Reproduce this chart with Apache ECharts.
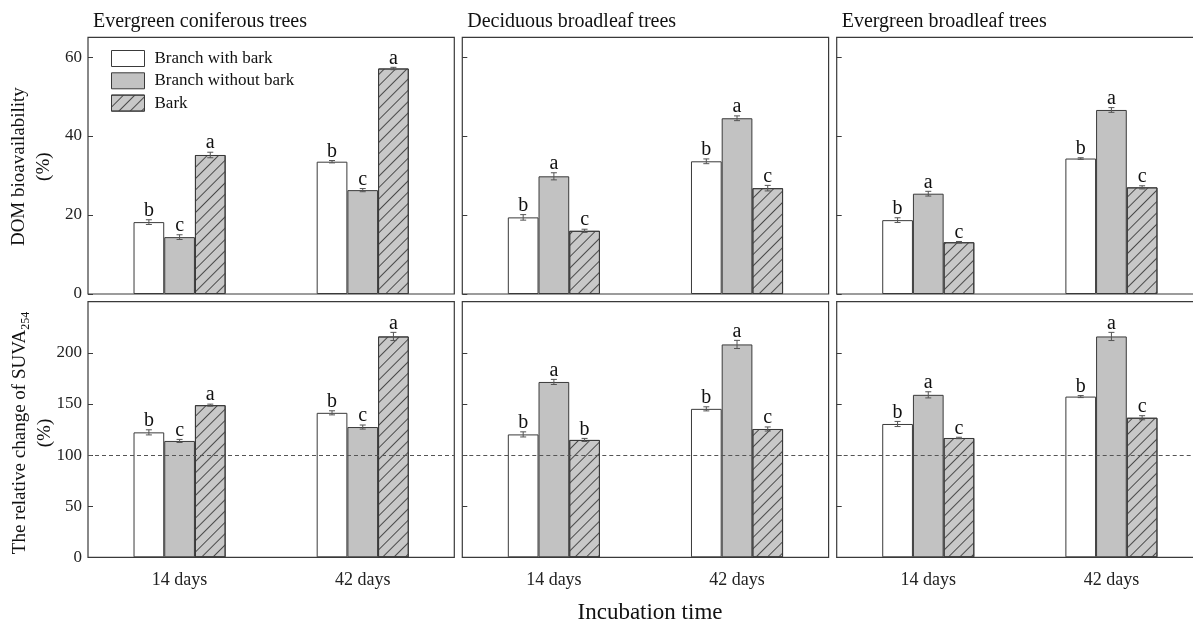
<!DOCTYPE html>
<html>
<head>
<meta charset="utf-8">
<script src="https://cdn.jsdelivr.net/npm/echarts@6/dist/echarts.min.js"></script>
<style>
html,body{margin:0;padding:0;background:#fff;}
#chart{width:1193px;height:626px;}
</style>
</head>
<body>
<div id="chart"></div>
<script>
// ---------------- DATA ----------------
const categories = ['14 days', '42 days'];
const seriesNames = ['Branch with bark', 'Branch without bark', 'Bark'];
const panelTitles = ['Evergreen coniferous trees', 'Deciduous broadleaf trees', 'Evergreen broadleaf trees'];
const domTicks = [0, 20, 40, 60];
const suvaTicks = [0, 50, 100, 150, 200];

// DOM bioavailability (%) : rows = series (with bark, without bark, bark), cols = categories
const domConifMean = [[18.2, 33.5], [14.4, 26.3], [35.2, 57.1]];
const domConifSD = [[0.6, 0.3], [0.6, 0.4], [0.7, 0.3]];
const domConifLetters = [['b', 'b'], ['c', 'c'], ['a', 'a']];

const domDecidMean = [[19.4, 33.6], [29.8, 44.5], [16.0, 26.8]];
const domDecidSD = [[0.7, 0.6], [0.9, 0.6], [0.4, 0.7]];
const domDecidLetters = [['b', 'b'], ['a', 'a'], ['c', 'c']];

const domEvbrMean = [[18.7, 34.3], [25.4, 46.6], [13.1, 27.0]];
const domEvbrSD = [[0.6, 0.2], [0.6, 0.6], [0.2, 0.4]];
const domEvbrLetters = [['b', 'b'], ['a', 'a'], ['c', 'c']];

// Relative change of SUVA254 (%)
const suvaConifMean = [[122.2, 141.3], [113.8, 127.4], [148.8, 216.0]];
const suvaConifSD = [[2.5, 2.0], [1.5, 2.0], [1.0, 4.0]];
const suvaConifLetters = [['b', 'b'], ['c', 'c'], ['a', 'a']];

const suvaDecidMean = [[120.2, 145.2], [171.5, 208.2], [114.8, 125.5]];
const suvaDecidSD = [[2.5, 2.0], [2.5, 4.0], [1.5, 2.0]];
const suvaDecidLetters = [['b', 'b'], ['a', 'a'], ['b', 'c']];

const suvaEvbrMean = [[130.4, 157.2], [158.9, 216.0], [116.7, 136.5]];
const suvaEvbrSD = [[2.5, 1.0], [3.0, 4.0], [0.7, 2.0]];
const suvaEvbrLetters = [['b', 'b'], ['a', 'a'], ['c', 'c']];

const referenceLine = 100;

// ---------------- STYLE / LAYOUT ----------------
const FONT = "'Liberation Serif', 'Times New Roman', serif";
const COL_LEFT = [88, 462.3, 836.7];
const GRID_W = 366.3;
const ROWS = [{ top: 37.3, h: 256.7 }, { top: 301.7, h: 255.6 }];
const BARW = 30.7;
const barFill = ['#ffffff', '#c2c2c2', '#c8c8c8'];
const EDGE = '#3a3a3a';

const panels = [
  { row: 0, col: 0, mean: domConifMean, sd: domConifSD, letters: domConifLetters },
  { row: 0, col: 1, mean: domDecidMean, sd: domDecidSD, letters: domDecidLetters },
  { row: 0, col: 2, mean: domEvbrMean, sd: domEvbrSD, letters: domEvbrLetters },
  { row: 1, col: 0, mean: suvaConifMean, sd: suvaConifSD, letters: suvaConifLetters },
  { row: 1, col: 1, mean: suvaDecidMean, sd: suvaDecidSD, letters: suvaDecidLetters },
  { row: 1, col: 2, mean: suvaEvbrMean, sd: suvaEvbrSD, letters: suvaEvbrLetters }
];

const grids = [], xAxes = [], yAxes = [], series = [];

panels.forEach((p, i) => {
  grids.push({
    left: COL_LEFT[p.col], top: ROWS[p.row].top, width: GRID_W, height: ROWS[p.row].h,
    outerBoundsMode: 'none', containLabel: false,
    show: true, borderColor: EDGE, borderWidth: 1.2, backgroundColor: 'transparent'
  });
  xAxes.push({
    gridIndex: i, type: 'category', data: categories,
    axisLine: { show: false }, axisTick: { show: false },
    axisLabel: { show: p.row === 1, fontFamily: FONT, fontSize: 18, color: '#222', margin: 14 }
  });
  const isDom = p.row === 0;
  yAxes.push({
    gridIndex: i, type: 'value', min: 0, max: isDom ? 65 : 250, interval: isDom ? 20 : 50,
    axisLine: { show: false }, splitLine: { show: false },
    axisTick: { show: true, inside: true, length: 5, lineStyle: { color: EDGE, width: 1 } },
    axisLabel: { show: p.col === 0, showMaxLabel: false, fontFamily: FONT, fontSize: 17, color: '#222', margin: 6 }
  });
  for (let k = 0; k < 3; k++) {
    const s = {
      name: seriesNames[k], type: 'bar', xAxisIndex: i, yAxisIndex: i,
      data: p.mean[k], barWidth: BARW, barGap: '0%',
      itemStyle: { color: barFill[k], borderColor: EDGE, borderWidth: 1 },
      emphasis: { disabled: true }, z: 2
    };
    if (k === 2) {
      s.itemStyle.decal = {
        symbol: 'rect', symbolSize: 1, dashArrayX: [1, 0], dashArrayY: [1, 7],
        rotation: -Math.PI / 4, color: '#4a4a4a'
      };
    }
    if (k === 0 && p.row === 1) {
      s.markLine = {
        silent: true, symbol: 'none', label: { show: false },
        lineStyle: { type: [4, 3], color: '#555', width: 1 },
        data: [{ yAxis: referenceLine }]
      };
    }
    series.push(s);
  }
  // error bars + significance letters
  const errData = [];
  const letterList = [];
  for (let k = 0; k < 3; k++) {
    for (let c = 0; c < categories.length; c++) {
      errData.push([c, p.mean[k][c], p.sd[k][c], k]);
      letterList.push(p.letters[k][c]);
    }
  }
  series.push({
    type: 'custom', xAxisIndex: i, yAxisIndex: i, data: errData, z: 5, silent: true,
    encode: { x: 0, y: 1 },
    renderItem: function (params, api) {
      const c = api.value(0), m = api.value(1), sd = api.value(2), k = api.value(3);
      const hi = api.coord([c, m + sd]);
      const lo = api.coord([c, m - sd]);
      const x = hi[0] + (k - 1) * BARW;
      const cap = 3;
      const st = { stroke: '#555', lineWidth: 1 };
      return {
        type: 'group',
        children: [
          { type: 'line', shape: { x1: x, y1: lo[1], x2: x, y2: hi[1] }, style: st },
          { type: 'line', shape: { x1: x - cap, y1: hi[1], x2: x + cap, y2: hi[1] }, style: st },
          { type: 'line', shape: { x1: x - cap, y1: lo[1], x2: x + cap, y2: lo[1] }, style: st },
          {
            type: 'text', x: x, y: hi[1] + 1,
            style: {
              text: letterList[params.dataIndex], textAlign: 'center', textVerticalAlign: 'bottom',
              font: '20px ' + FONT, fill: '#111'
            }
          }
        ]
      };
    }
  });
});

const graphics = [];
panelTitles.forEach((t, c) => {
  graphics.push({
    type: 'text', left: COL_LEFT[c] + 5, top: 12,
    style: { text: t, font: '20px ' + FONT, fill: '#111' }
  });
});
graphics.push({
  type: 'text', x: 19, y: ROWS[0].top + ROWS[0].h / 2 + 1, rotation: Math.PI / 2,
  style: { text: 'DOM bioavailability', font: '19px ' + FONT, fill: '#111', textAlign: 'center', textVerticalAlign: 'middle' }
});
graphics.push({
  type: 'text', x: 44, y: ROWS[0].top + ROWS[0].h / 2 + 1, rotation: Math.PI / 2,
  style: { text: '(%)', font: '19px ' + FONT, fill: '#111', textAlign: 'center', textVerticalAlign: 'middle' }
});
graphics.push({
  type: 'text', x: 20, y: 433, rotation: Math.PI / 2,
  style: {
    text: '{a|The relative change of SUVA}{s|254}', textAlign: 'center', textVerticalAlign: 'middle',
    rich: {
      a: { font: '19px ' + FONT, fill: '#111', lineHeight: 24 },
      s: { font: '12px ' + FONT, fill: '#111', lineHeight: 9, verticalAlign: 'bottom' }
    }
  }
});
graphics.push({
  type: 'text', x: 45, y: 433, rotation: Math.PI / 2,
  style: { text: '(%)', font: '19px ' + FONT, fill: '#111', textAlign: 'center', textVerticalAlign: 'middle' }
});
graphics.push({
  type: 'text', x: 650, y: 613,
  style: { text: 'Incubation time', font: '23px ' + FONT, fill: '#111', textAlign: 'center', textVerticalAlign: 'middle' }
});

const chart = echarts.init(document.getElementById('chart'), null, { renderer: 'canvas' });
chart.setOption({
  backgroundColor: '#ffffff',
  animation: false,
  grid: grids,
  xAxis: xAxes,
  yAxis: yAxes,
  legend: {
    data: seriesNames, orient: 'vertical', left: 111, top: 50, padding: 0,
    itemWidth: 33, itemHeight: 16, itemGap: 5.3, icon: 'rect',
    itemStyle: { borderColor: EDGE, borderWidth: 1 },
    textStyle: { fontFamily: FONT, fontSize: 17, color: '#111', padding: [0, 0, 0, 5] },
    selectedMode: false
  },
  graphic: graphics,
  series: series
});
</script>
</body>
</html>
